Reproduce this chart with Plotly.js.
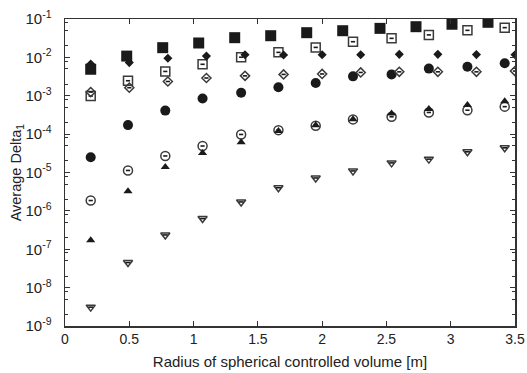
<!DOCTYPE html>
<html>
<head>
<meta charset="utf-8">
<script src="https://cdn.plot.ly/plotly-3.0.1.min.js"></script>
<style>html,body{margin:0;padding:0;background:#fff;}#chart{width:527px;height:373px;}</style>
</head>
<body>
<div id="chart"></div>
<script>
// x positions (radius, m) for the three groups of series
const xSquaresFilled = [0.2, 0.48, 0.76, 1.04, 1.32, 1.6, 1.88, 2.16, 2.45, 2.73, 3.01, 3.29];
const xMain = [0.2, 0.49, 0.78, 1.07, 1.37, 1.66, 1.95, 2.24, 2.54, 2.83, 3.13, 3.42];
const xDiamonds = [0.2, 0.5, 0.8, 1.1, 1.4, 1.7, 2.0, 2.3, 2.6, 2.9, 3.2, 3.5];

// Average Delta_1 values
const filledSquare = [4.9e-3, 1.08e-2, 1.79e-2, 2.37e-2, 3.26e-2, 3.67e-2, 4.4e-2, 4.95e-2, 5.7e-2, 6.3e-2, 7.3e-2, 8.2e-2];
const openSquare = [9.8e-4, 2.46e-3, 4.3e-3, 6.6e-3, 1.01e-2, 1.35e-2, 1.82e-2, 2.56e-2, 3.13e-2, 3.85e-2, 5.06e-2, 5.95e-2];
const filledDiamond = [6.7e-3, 7.3e-3, 9.5e-3, 1.08e-2, 1.17e-2, 1.15e-2, 1.17e-2, 1.17e-2, 1.2e-2, 1.2e-2, 1.18e-2, 1.17e-2];
const openDiamond = [1.25e-3, 1.62e-3, 2.35e-3, 2.9e-3, 3.3e-3, 3.6e-3, 3.7e-3, 4.05e-3, 4.2e-3, 4.2e-3, 4.2e-3, 4.4e-3];
const filledCircle = [2.5e-5, 1.72e-4, 4.1e-4, 8.5e-4, 1.2e-3, 1.66e-3, 2.15e-3, 3.2e-3, 3.6e-3, 5.1e-3, 5.7e-3, 7.0e-3];
const openCircle = [1.86e-6, 1.13e-5, 2.7e-5, 4.9e-5, 9.8e-5, 1.27e-4, 1.65e-4, 2.42e-4, 2.83e-4, 3.67e-4, 4.2e-4, 5.2e-4];
const filledTriangle = [1.71e-7, 3.26e-6, 1.4e-5, 3.2e-5, 6.1e-5, 1.2e-4, 1.7e-4, 2.45e-4, 3.47e-4, 4.5e-4, 5.7e-4, 7.2e-4];
const openTriangleDown = [3.1e-9, 4.5e-8, 2.36e-7, 6.3e-7, 1.71e-6, 4.0e-6, 7.2e-6, 1.1e-5, 1.78e-5, 2.23e-5, 3.46e-5, 4.4e-5];

const xTickVals = [0, 0.5, 1, 1.5, 2, 2.5, 3, 3.5];
const xTickText = ['0', '0.5', '1', '1.5', '2', '2.5', '3', '3.5'];
const yDecades = [-9, -8, -7, -6, -5, -4, -3, -2, -1];
const yTickVals = yDecades.map(d => Math.pow(10, d));
const yTickText = yDecades.map(d => '10<sup>' + d + '</sup>');

const INK = '#1a1a1a';
const OUT = '#3a3a3a';

function filled(x, y, symbol, size) {
  return {x: x, y: y, type: 'scatter', mode: 'markers', hoverinfo: 'skip',
    marker: {symbol: symbol, size: size, color: INK, line: {width: 0}}};
}
function open(x, y, symbol, size) {
  return {x: x, y: y, type: 'scatter', mode: 'markers', hoverinfo: 'skip',
    marker: {symbol: symbol, size: size, color: OUT, line: {width: 1.5, color: OUT}}};
}
function dash(x, y, size) {
  return {x: x, y: y, type: 'scatter', mode: 'markers', hoverinfo: 'skip',
    marker: {symbol: 'line-ew', size: size, color: INK, line: {width: 1.6, color: INK}}};
}

const traces = [
  filled(xSquaresFilled, filledSquare, 'square', 11),
  open(xMain, openSquare, 'square-open', 9), dash(xMain, openSquare, 3),
  filled(xDiamonds, filledDiamond, 'diamond', 7),
  filled(xMain, filledCircle, 'circle', 10),
  open(xDiamonds, openDiamond, 'diamond-open', 7), dash(xDiamonds, openDiamond, 3),
  open(xMain, openCircle, 'circle-open', 9), dash(xMain, openCircle, 3),
  filled(xMain, filledTriangle, 'triangle-up', 8),
  open(xMain, openTriangleDown, 'triangle-down-open', 8), dash(xMain, openTriangleDown, 3.5)
];

// minor ticks (2, 5, 8 within each decade)
const minorVals = [];
for (const d of yDecades) { for (const m of [2, 5, 8]) { if (d < -1) minorVals.push(m * Math.pow(10, d)); } }

const font = {family: 'Liberation Sans, Arial, sans-serif', size: 15, color: '#222'};
const titleFontY = {family: 'Liberation Sans, Arial, sans-serif', size: 14.5, color: '#222'};
const tickFont = {family: 'Liberation Sans, Arial, sans-serif', size: 14, color: '#222'};
const yTickFont = {family: 'Liberation Sans, Arial, sans-serif', size: 15, color: '#222'};

const layout = {
  width: 527, height: 373,
  margin: {l: 65, r: 12, t: 19, b: 47},
  paper_bgcolor: '#fff', plot_bgcolor: '#fff',
  showlegend: false,
  font: font,
  xaxis: {
    range: [0, 3.5], tickmode: 'array', tickvals: xTickVals, ticktext: xTickText,
    ticks: 'inside', ticklen: 5, tickwidth: 1, tickcolor: '#333',
    showline: true, linecolor: '#333', linewidth: 1.5, mirror: 'ticks',
    showgrid: false, zeroline: false,
    tickfont: tickFont,
    title: {text: 'Radius of spherical controlled volume [m]', font: font, standoff: 10}
  },
  yaxis: {
    type: 'log', range: [-9, -1], tickmode: 'array', tickvals: yTickVals, ticktext: yTickText,
    ticks: 'inside', ticklen: 5, tickwidth: 1, tickcolor: '#333',
    minor: {tickvals: minorVals, ticks: 'inside', ticklen: 3, tickcolor: '#333', showgrid: false},
    showline: true, linecolor: '#333', linewidth: 1.5, mirror: 'ticks',
    showgrid: false, zeroline: false,
    tickfont: yTickFont, ticklabelstandoff: 9
  },
  annotations: [{
    text: 'Average Delta<sub>1</sub>', textangle: -90, showarrow: false,
    xref: 'paper', yref: 'paper', x: -0.107, y: 0.5, xanchor: 'center', yanchor: 'middle',
    font: titleFontY
  }]
};

Plotly.newPlot('chart', traces, layout, {displayModeBar: false, staticPlot: true});
</script>
</body>
</html>
